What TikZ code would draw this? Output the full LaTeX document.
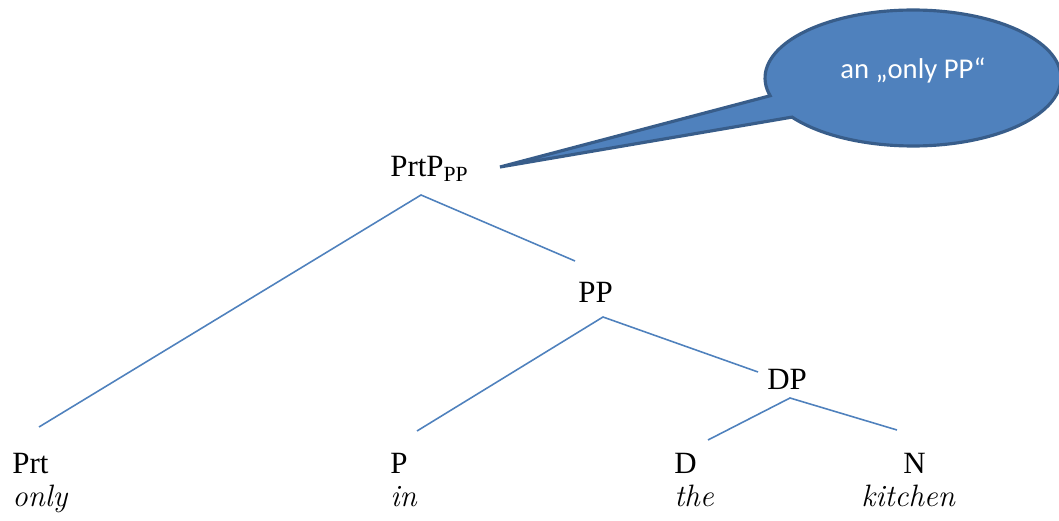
\documentclass[tikz,border=0pt]{standalone}
\usepackage{fontspec}
\setmainfont{Liberation Serif}
\newfontfamily\calloutfont{Carlito}
\usetikzlibrary{shapes.callouts,positioning}
\definecolor{treeBlue}{RGB}{79,129,189}
\definecolor{rimBlue}{RGB}{56,93,138}
\tikzset{
  word/.style={anchor=base west, inner sep=0pt, font=\fontsize{17.6}{20}\selectfont},
  gloss/.style={word, font=\fontfamily{lmr}\fontsize{17.6}{20}\selectfont\itshape},
  branch/.style={treeBlue, line width=0.9pt},
  bubble/.style={ellipse callout, fill=treeBlue, draw=rimBlue, line width=1.8pt,
    minimum width=5.92cm, minimum height=2.72cm, inner sep=0pt, callout pointer arc=20},
}
\begin{document}
\begin{tikzpicture}[x=0.02cm, y=0.02cm]
  \useasboundingbox (0,0) rectangle (1059,521);
  % labels
  \node[word] (prtpp) at (390,344) {PrtP\textsubscript{PP}};
  \node[word] (pp) at (578,218) {PP};
  \node[word] (dp) at (767,131) {DP};
  \node[word] (prt) at (12,47) {Prt};
  \node[word] (p) at (390,47) {P};
  \node[word] (d) at (674,47) {D};
  \node[word] (n) at (903,47) {N};
  \node[gloss] (only) at (12,14) {only};
  \node[gloss] (in) at (390,14) {in};
  \node[gloss] (the) at (674,14) {the};
  \node[gloss] (kitchen) at (861,14) {kitchen};
  % branch ends
  \coordinate (prtpp-foot) at (421,326);
  \coordinate (pp-head) at (575,260);
  \coordinate (pp-foot) at (603,204);
  \coordinate (dp-head) at (758,149);
  \coordinate (dp-foot) at (790,123);
  \coordinate (prt-head) at (39,94);
  \coordinate (p-head) at (417,90);
  \coordinate (d-head) at (708,81);
  \coordinate (n-head) at (897,91);
  \draw[branch] (prt-head) -- (prtpp-foot) -- (pp-head);
  \draw[branch] (p-head) -- (pp-foot) -- (dp-head);
  \draw[branch] (d-head) -- (dp-foot) -- (n-head);
  % callout
  \coordinate (tip) at (500,354);
  \node[bubble, callout absolute pointer={(tip)}] (note) at (913,443) {};
  \node[text=white, inner sep=0pt, font=\calloutfont\fontsize{16.3}{19}\selectfont]
    (notetext) at (913,451) {an „only PP“};
\end{tikzpicture}
\end{document}
